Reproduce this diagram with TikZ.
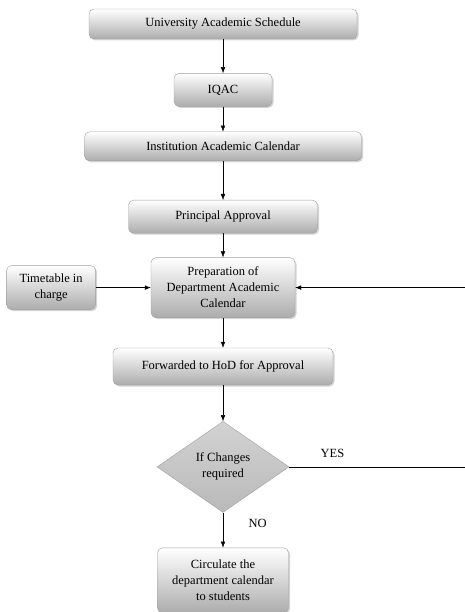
\documentclass[tikz,border=0pt]{standalone}
\usepackage{fontspec}
\setmainfont{Liberation Serif}
\usetikzlibrary{arrows.meta, positioning, shapes.geometric, shadows}

\begin{document}
\begin{tikzpicture}[x=1pt, y=1pt, >={Latex[length=6pt, width=4.5pt]},
    font=\fontsize{12.5}{16}\selectfont,
    stagebox/.style={draw=gray!75, rounded corners=5pt, top color=white, bottom color=gray!65,
        drop shadow={opacity=0.35, shadow xshift=1.5pt, shadow yshift=-1.5pt}, inner sep=2pt, align=center},
    decision/.style={diamond, draw=gray!75, top color=gray!35, bottom color=gray!55, aspect=1.45,
        inner sep=0pt, align=center}]
    \useasboundingbox (0,0) rectangle (465,-612);
    \node[stagebox, minimum width=268pt, minimum height=30pt] (uas) at (223,-24) {University Academic Schedule};
    \node[stagebox, below=34pt of uas, minimum width=98pt, minimum height=33pt] (iqac) {IQAC};
    \node[stagebox, below=25pt of iqac, minimum width=277pt, minimum height=29pt] (iac) {Institution Academic Calendar};
    \node[stagebox, below=39pt of iac, minimum width=189pt, minimum height=33pt] (approval) {Principal Approval};
    \node[stagebox, below=24pt of approval, minimum width=144pt, minimum height=60pt] (prep) {Preparation of\\Department Academic\\Calendar};
    \node[stagebox, left=55pt of prep, minimum width=89pt, minimum height=44pt] (timetable) {Timetable in\\charge};
    \node[stagebox, below=30pt of prep, minimum width=220pt, minimum height=37pt] (hod) {Forwarded to HoD for Approval};
    \node[decision, below=36pt of hod, minimum width=132pt, minimum height=91pt] (changes) {If Changes\\required};
    \node[stagebox, below=35pt of changes, minimum width=131pt, minimum height=65pt] (circulate) {Circulate the\\department calendar\\to students};
    \coordinate[right=180pt of changes.east] (loop);

    \draw[->] (uas) -- (iqac);
    \draw[->] (iqac) -- (iac);
    \draw[->] (iac) -- (approval);
    \draw[->] (approval) -- (prep);
    \draw[->] (timetable) -- (prep);
    \draw[->] (prep) -- (hod);
    \draw[->] (hod) -- (changes);
    \draw[->] (changes.east) -- node[above=6pt, pos=0.24] {YES} (loop) |- (prep.east);
    \draw[->] (changes) -- node[right=22pt, pos=0.3] {NO} (circulate);
\end{tikzpicture}
\end{document}
